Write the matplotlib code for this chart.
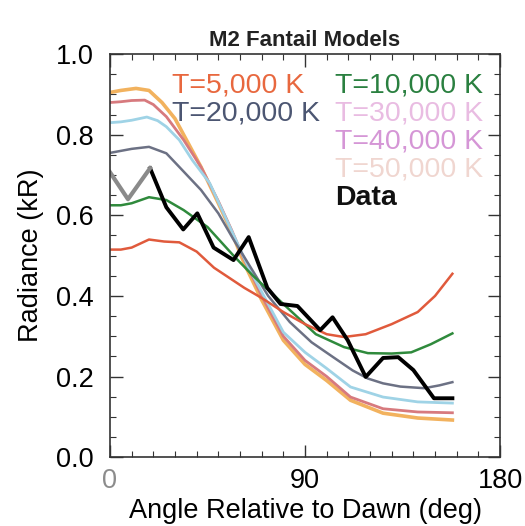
import matplotlib
matplotlib.use("Agg")
import matplotlib.pyplot as plt
from matplotlib.ticker import MultipleLocator

plt.rcParams['font.family'] = ['Liberation Sans', 'DejaVu Sans']

# model curves, angle (deg) vs radiance (kR)
t5_ang = [0, 5, 10, 18, 25, 32, 40, 48, 55, 62, 70, 80, 90, 100, 108, 118, 130, 142, 150, 158]
t5_val = [0.515, 0.515, 0.52, 0.54, 0.535, 0.533, 0.51, 0.47, 0.445, 0.42, 0.395, 0.36, 0.33,
          0.305, 0.298, 0.305, 0.33, 0.36, 0.40, 0.455]

t10_ang = [0, 5, 10, 18, 26, 34, 45, 57, 66, 75, 85, 95, 108, 119, 130, 139, 148, 158]
t10_val = [0.625, 0.625, 0.63, 0.645, 0.638, 0.613, 0.571, 0.50, 0.45, 0.405, 0.355, 0.305,
           0.273, 0.258, 0.257, 0.26, 0.28, 0.307]

t20_ang = [0, 5, 10, 18, 26, 32, 42, 50, 57, 65, 73, 83, 93, 103, 112, 119, 126, 134, 145, 152, 158]
t20_val = [0.755, 0.76, 0.765, 0.77, 0.754, 0.72, 0.663, 0.605, 0.54, 0.47, 0.40, 0.335, 0.285,
           0.248, 0.215, 0.195, 0.183, 0.175, 0.171, 0.178, 0.186]

t30_ang = [0, 5, 10, 17, 22, 26, 32, 38, 46, 52, 58, 64, 72, 80, 90, 100, 111, 126, 142, 158]
t30_val = [0.83, 0.832, 0.836, 0.844, 0.835, 0.82, 0.787, 0.737, 0.68, 0.61, 0.54, 0.47, 0.39,
           0.31, 0.26, 0.22, 0.174, 0.149, 0.137, 0.134]

t40_ang = [0, 5, 10, 16, 20, 26, 34, 42, 50, 56, 62, 70, 80, 90, 100, 111, 126, 142, 158]
t40_val = [0.88, 0.882, 0.885, 0.886, 0.875, 0.845, 0.787, 0.72, 0.635, 0.565, 0.49, 0.40, 0.30,
           0.24, 0.20, 0.149, 0.12, 0.112, 0.11]

t50_ang = [0, 5, 12, 18, 24, 30, 36, 42, 50, 56, 62, 70, 80, 90, 100, 111, 126, 142, 158]
t50_val = [0.905, 0.91, 0.915, 0.91, 0.88, 0.84, 0.78, 0.72, 0.63, 0.56, 0.48, 0.39, 0.29, 0.23,
           0.19, 0.141, 0.109, 0.097, 0.092]

# observed data
data_ang = [0, 8.3, 18.5, 26, 33.8, 40.3, 47.8, 57, 64, 72.6, 78.7, 86.5, 97, 102.7, 109.7,
            118, 126, 133, 140, 149.5, 158]
data_val = [0.707, 0.64, 0.717, 0.62, 0.565, 0.605, 0.52, 0.489, 0.546, 0.42, 0.38, 0.375,
            0.315, 0.347, 0.29, 0.199, 0.246, 0.248, 0.216, 0.146, 0.146]

fig = plt.figure(figsize=(5.25, 5.26), dpi=100)
ax = fig.add_axes([0.2095, 0.131, 0.743, 0.766])

ax.plot(t50_ang, t50_val, color='#f2b25e', lw=2.6)
ax.plot(t40_ang, t40_val, color='#d77a7e', lw=2.0)
ax.plot(t30_ang, t30_val, color='#9fd3e6', lw=2.0)
ax.plot(t20_ang, t20_val, color='#6c7184', lw=1.8)
ax.plot(t10_ang, t10_val, color='#2f8a3c', lw=1.8)
ax.plot(t5_ang, t5_val, color='#e05a3c', lw=1.8)
ax.plot(data_ang[2:], data_val[2:], color='black', lw=2.8)
ax.plot(data_ang[:3], data_val[:3], color='#8a8a8a', lw=3.0)

ax.set_xlim(0, 180)
ax.set_ylim(0, 1.0)
ax.set_xticks([0, 90, 180])
ax.set_yticks([0, 0.2, 0.4, 0.6, 0.8, 1.0])
ax.set_yticklabels(['0.0', '0.2', '0.4', '0.6', '0.8', '1.0'])
ax.xaxis.set_minor_locator(MultipleLocator(10))
ax.yaxis.set_minor_locator(MultipleLocator(0.05))
ax.tick_params(which='both', direction='in', top=True, right=True, colors='#333333',
               labelcolor='black', labelsize=19.5)
ax.tick_params(which='major', length=9, width=1.0)
ax.tick_params(which='minor', length=4, width=0.8)
ax.tick_params(axis='y', pad=12)
ax.tick_params(axis='x', pad=8)
ax.get_xticklabels()[0].set_color('#8c8c8c')
for s in ax.spines.values():
    s.set_color('#333333')
    s.set_linewidth(1.2)

ax.set_xlabel('Angle Relative to Dawn (deg)', fontsize=19.5, labelpad=3)
ax.set_ylabel('Radiance (kR)', fontsize=19.5, labelpad=8)
ax.set_title('M2 Fantail Models', fontsize=16, fontweight='bold', color='#222222', pad=6)

fs = 20.5
ax.text(0.16, 0.922, 'T=5,000 K', color='#e8683f', fontsize=fs, transform=ax.transAxes, va='center')
ax.text(0.16, 0.852, 'T=20,000 K', color='#4c5672', fontsize=fs, transform=ax.transAxes, va='center')
ax.text(0.578, 0.922, 'T=10,000 K', color='#2a8040', fontsize=fs, transform=ax.transAxes, va='center')
ax.text(0.578, 0.852, 'T=30,000 K', color='#e9bce2', fontsize=fs, transform=ax.transAxes, va='center')
ax.text(0.578, 0.783, 'T=40,000 K', color='#d596d6', fontsize=fs, transform=ax.transAxes, va='center')
ax.text(0.578, 0.713, 'T=50,000 K', color='#f0d6d0', fontsize=fs, transform=ax.transAxes, va='center')
ax.text(0.578, 0.643, 'Data', color='#111111', fontsize=fs, fontweight='bold',
        transform=ax.transAxes, va='center')

fig.savefig('out.png', dpi=100)
